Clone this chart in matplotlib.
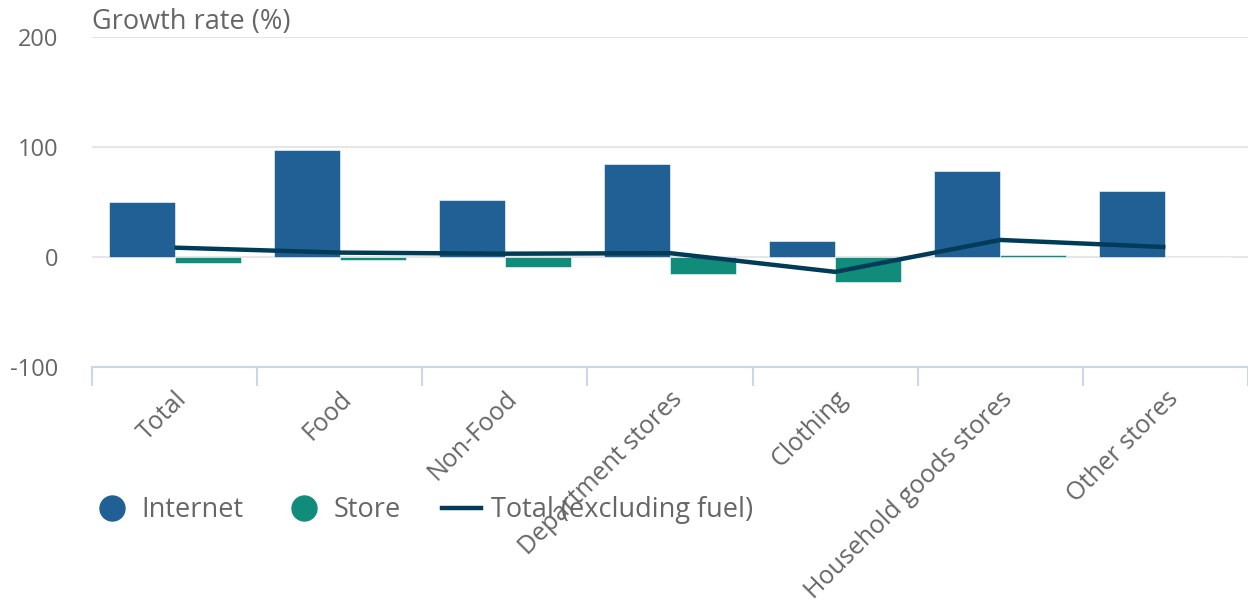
import numpy as np
import matplotlib
matplotlib.use('Agg')
import matplotlib.pyplot as plt
from matplotlib.lines import Line2D

# ---------- 数据 ----------
categories = ['Total', 'Food', 'Non-Food', 'Department stores',
              'Clothing', 'Household goods stores', 'Other stores']
internet = [50, 97, 52, 85, 15, 78, 60]
store = [-5, -2.7, -9, -15, -23, 1.5, 0]
total_ex_fuel = [8.5, 4, 3, 3.5, -13.5, 15.5, 9]
y_ticks = [-100, 0, 100, 200]

# ---------- 样式 ----------
C_INTERNET = '#206095'
C_STORE = '#118c7b'
C_LINE = '#003c57'
C_TEXT = '#666666'
C_GRID = '#e6e6e6'
C_AXIS = '#ccd6eb'

plt.rcParams['font.family'] = ['Open Sans', 'DejaVu Sans']

fig = plt.figure(figsize=(12.48, 6.03), dpi=100)
W, H = 1248, 603
ax = fig.add_axes([92 / W, 1 - 367 / H, (W - 92) / W, (367 - 37) / H])

x = np.arange(len(categories))
bw = 0.4
ax.bar(x - bw / 2, internet, width=bw, color=C_INTERNET, edgecolor='white', linewidth=0.4, zorder=2)
ax.bar(x + bw / 2, store, width=bw, color=C_STORE, edgecolor='white', linewidth=0.4, zorder=2)
ax.plot(x, total_ex_fuel, color=C_LINE, linewidth=3.2, zorder=3, solid_capstyle='butt')

ax.set_xlim(-0.5, len(categories) - 0.5)
ax.set_ylim(-100, 200)

# 网格线
for v in y_ticks[1:]:
    ax.axhline(v, color=C_GRID, linewidth=1.5, zorder=0)

for s in ['top', 'right', 'left']:
    ax.spines[s].set_visible(False)
ax.spines['bottom'].set_color(C_AXIS)
ax.spines['bottom'].set_linewidth(1.5)

ax.set_yticks(y_ticks)
ax.set_yticklabels([str(v) for v in y_ticks], fontsize=17, color=C_TEXT)
ax.tick_params(axis='y', length=0, pad=24)

# 类别边界刻度（次刻度）和标签（主刻度）
ax.set_xticks(np.arange(-0.5, len(categories)), minor=True)
ax.tick_params(axis='x', which='minor', length=14, width=1.5, color=C_AXIS)
ax.set_xticks(x)
ax.set_xticklabels(categories, rotation=45, ha='right', rotation_mode='anchor',
                   fontsize=18, color=C_TEXT)
ax.tick_params(axis='x', which='major', length=0, pad=14)

fig.text(92 / W, 1 - 22 / H, 'Growth rate (%)', fontsize=19.5, color=C_TEXT,
         ha='left', va='center')

handles = [
    Line2D([], [], marker='o', linestyle='none', markersize=18, color=C_INTERNET),
    Line2D([], [], marker='o', linestyle='none', markersize=18, color=C_STORE),
    Line2D([], [], color=C_LINE, linewidth=3.2),
]
labels = ['Internet', 'Store', 'Total (excluding fuel)']
leg = fig.legend(handles, labels, loc='center left', bbox_to_anchor=(92.5 / W, 1 - 510 / H),
                 ncol=3, frameon=False, fontsize=19.5, labelcolor=C_TEXT,
                 borderpad=0, borderaxespad=0,
                 handlelength=1.45, handletextpad=0.37, columnspacing=1.5)

fig.savefig('out.png', dpi=100)
